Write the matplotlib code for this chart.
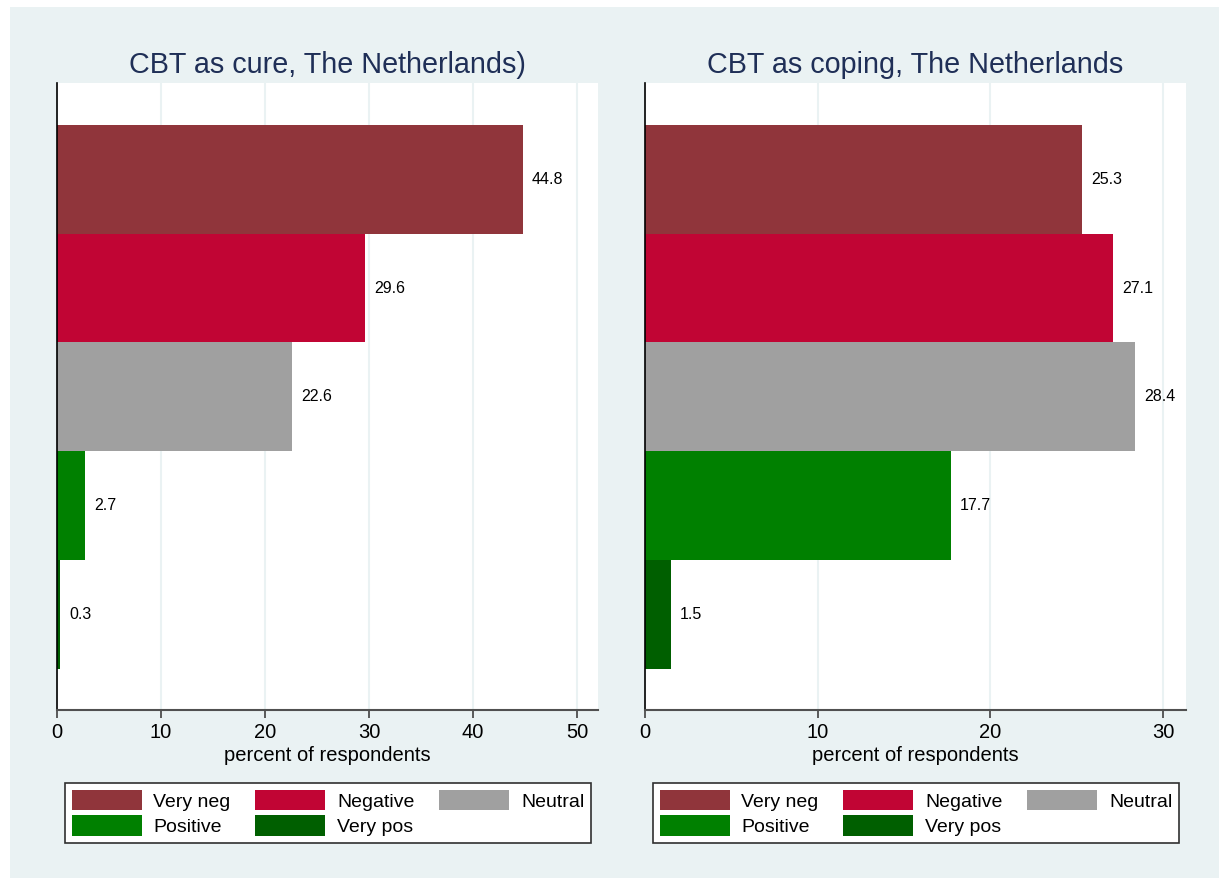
import matplotlib
matplotlib.use('Agg')
import matplotlib.pyplot as plt
from matplotlib.patches import Rectangle, Patch

plt.rcParams['font.family'] = ['Liberation Sans', 'DejaVu Sans']

categories = ['Very neg', 'Negative', 'Neutral', 'Positive', 'Very pos']
colors = ['#90353B', '#C10534', '#A0A0A0', '#008000', '#005F00']
cure_values = [44.8, 29.6, 22.6, 2.7, 0.3]
coping_values = [25.3, 27.1, 28.4, 17.7, 1.5]
titles = ['CBT as cure, The Netherlands)', 'CBT as coping, The Netherlands']

W, H = 1229, 885
fig = plt.figure(figsize=(W / 100, H / 100), dpi=100, facecolor='white')
# bluish graph region inside a thin white margin
fig.add_artist(Rectangle((10 / W, 7 / H), 1209 / W, 871 / H, transform=fig.transFigure,
                         facecolor='#EAF2F3', edgecolor='none', zorder=-5))

panels = [
    (57, 598, cure_values, 52.0, [0, 10, 20, 30, 40, 50]),
    (645, 1186, coping_values, 31.33, [0, 10, 20, 30]),
]

# matplotlib fills legend columns first, so reorder to get rows like the original
leg_order = [0, 3, 1, 4, 2]

for (x0, x1, vals, xmax, ticks), title in zip(panels, titles):
    ax = fig.add_axes([x0 / W, 1 - 710 / H, (x1 - x0) / W, (710 - 83) / H])
    ax.set_facecolor('white')
    pos = list(range(len(vals)))
    ax.barh(pos, vals, height=1.0, color=colors, zorder=2)
    for p, v in zip(pos, vals):
        ax.annotate(f'{v:.1f}', (v, p), xytext=(6.5, 0), textcoords='offset points',
                    va='center', ha='left', fontsize=11.5, color='black')
    ax.set_xlim(0, xmax)
    ax.set_ylim(4.88, -0.885)
    ax.set_xticks(ticks)
    ax.set_yticks([])
    ax.grid(axis='x', color='#EAF2F3', linewidth=1.5, zorder=0)
    ax.tick_params(axis='x', labelsize=14.5, length=6, width=1.2, color='#404040', pad=3)
    for s in ['top', 'right']:
        ax.spines[s].set_visible(False)
    ax.spines['left'].set_color('black')
    ax.spines['left'].set_linewidth(1.2)
    ax.spines['bottom'].set_color('#505050')
    ax.spines['bottom'].set_linewidth(1.5)
    ax.set_xlabel('percent of respondents', fontsize=14.5, labelpad=3)
    ax.set_title(title, fontsize=20.7, color='#1F2F57', pad=7)

    handles = [Patch(facecolor=c, edgecolor='none') for c in colors]
    w = x1 - x0
    leg = ax.legend([handles[i] for i in leg_order], [categories[i] for i in leg_order],
                    ncol=3, loc='lower left', mode='expand',
                    bbox_to_anchor=(8 / w, -133 / 627, 526 / w, 65 / 627),
                    borderaxespad=0, fontsize=14, frameon=True, fancybox=False,
                    framealpha=1, handlelength=3.6, handleheight=1.25, handletextpad=0.6,
                    labelspacing=0.25, columnspacing=1.0, borderpad=0.35)
    leg.get_frame().set_edgecolor('#303030')
    leg.get_frame().set_linewidth(1.2)
    leg.get_frame().set_facecolor('white')

fig.savefig('out.png', dpi=100, facecolor='white')
